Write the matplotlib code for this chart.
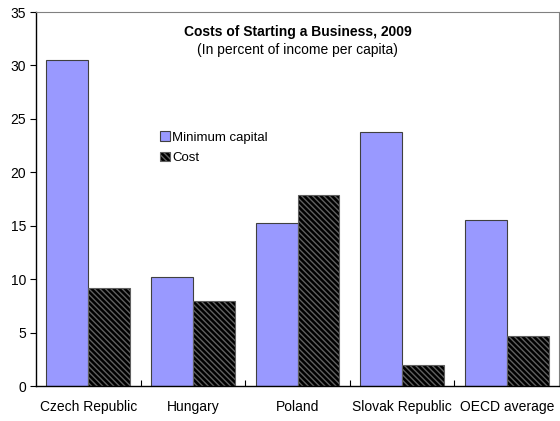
import matplotlib
matplotlib.use('Agg')
import matplotlib.pyplot as plt
import numpy as np

plt.rcParams['font.family'] = ['Liberation Sans', 'DejaVu Sans']
plt.rcParams['hatch.linewidth'] = 1.0

countries = ['Czech Republic', 'Hungary', 'Poland', 'Slovak Republic', 'OECD average']
min_capital = [30.5, 10.2, 15.3, 23.8, 15.5]
cost = [9.2, 8.0, 17.9, 2.0, 4.7]
y_ticks = [0, 5, 10, 15, 20, 25, 30, 35]

fig = plt.figure(figsize=(5.6, 4.21), dpi=100)
ax = fig.add_axes([36 / 560, 1 - 386 / 421, 523 / 560, 374 / 421])

x = np.arange(len(countries))
w = 0.4
ax.bar(x - w / 2, min_capital, w, color='#9999ff', edgecolor='#404040',
       linewidth=0.8, label='Minimum capital', zorder=2)
ax.bar(x + w / 2, cost, w, color='black', edgecolor='#606060', hatch='\\' * 6,
       linewidth=0.8, label='Cost', zorder=2)

ax.set_xlim(-0.5, len(countries) - 0.5)
ax.set_ylim(0, 35)
ax.set_yticks(y_ticks)
ax.set_xticks(x)
ax.set_xticklabels(countries)
ax.tick_params(axis='x', length=0, labelsize=10, pad=10)
ax.tick_params(axis='y', direction='out', length=4, labelsize=10, pad=3)

# inward ticks between categories
ax.set_xticks(np.arange(0.5, len(countries) - 0.5), minor=True)
ax.tick_params(axis='x', which='minor', direction='in', length=4, width=0.8)

for s in ['top', 'right']:
    ax.spines[s].set_color('#808080')
for s in ['left', 'bottom']:
    ax.spines[s].set_color('black')
    ax.spines[s].set_linewidth(1.0)

ax.text(0.5, 0.946, 'Costs of Starting a Business, 2009', transform=ax.transAxes,
        ha='center', va='center', fontsize=10, fontweight='bold')
ax.text(0.5, 0.899, '(In percent of income per capita)', transform=ax.transAxes,
        ha='center', va='center', fontsize=10)

ax.legend(loc='upper left', bbox_to_anchor=(119 / 523, 0.695), frameon=False,
          fontsize=9.5, handlelength=0.7, handleheight=0.7, handletextpad=0.2,
          labelspacing=0.65, borderaxespad=0)

fig.savefig('out.png', dpi=100)
